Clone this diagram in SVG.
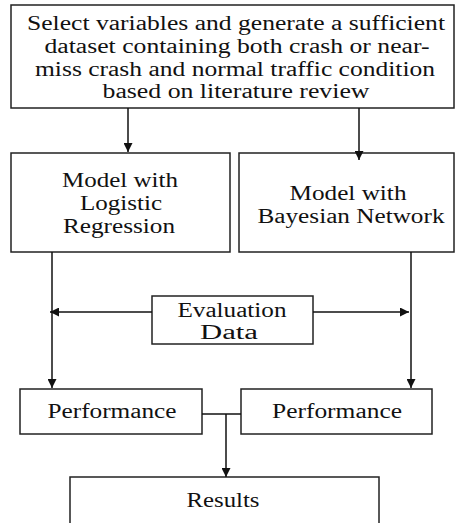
<svg xmlns="http://www.w3.org/2000/svg" width="455" height="523" viewBox="0 0 455 523">
<style>
.box{fill:#fff;stroke:#222;stroke-width:1.5}
.ln{fill:none;stroke:#111;stroke-width:1.5}
text{font-family:"Liberation Serif","Times New Roman",serif;font-size:20px;fill:#111;text-anchor:middle}
</style>
<defs>
<marker id="ah" viewBox="0 0 10 10" refX="10" refY="5" markerWidth="9" markerHeight="9" markerUnits="userSpaceOnUse" orient="auto">
<path d="M0,0 L10,5 L0,10 Z" fill="#111"/>
</marker>
</defs>
<rect width="455" height="523" fill="#fff"/>
<g id="top">
<rect class="box" x="11" y="5" width="443" height="103"/>
<text x="236" y="30" textLength="418" lengthAdjust="spacingAndGlyphs">Select variables and generate a sufficient</text>
<text x="237" y="53" textLength="385" lengthAdjust="spacingAndGlyphs">dataset containing both  crash or near-</text>
<text x="235" y="76" textLength="400" lengthAdjust="spacingAndGlyphs">miss crash and normal traffic condition</text>
<text x="236" y="98" textLength="267" lengthAdjust="spacingAndGlyphs">based on literature review</text>
</g>
<g id="logistic">
<rect class="box" x="11" y="153" width="219" height="99"/>
<text x="120" y="187" textLength="116" lengthAdjust="spacingAndGlyphs">Model with</text>
<text x="121" y="210" textLength="82" lengthAdjust="spacingAndGlyphs">Logistic</text>
<text x="119" y="233" textLength="112" lengthAdjust="spacingAndGlyphs">Regression</text>
</g>
<g id="bayesian">
<rect class="box" x="239" y="153" width="215" height="99"/>
<text x="348" y="200" textLength="117" lengthAdjust="spacingAndGlyphs">Model with</text>
<text x="351" y="223" textLength="187" lengthAdjust="spacingAndGlyphs">Bayesian Network</text>
</g>
<g id="evaluation">
<rect class="box" x="152" y="296" width="161" height="48"/>
<text x="232" y="317" textLength="109" lengthAdjust="spacingAndGlyphs">Evaluation</text>
<text x="229" y="339" textLength="58" lengthAdjust="spacingAndGlyphs">Data</text>
</g>
<g id="perf-left">
<rect class="box" x="20" y="389" width="182" height="45"/>
<text x="112" y="418" textLength="129" lengthAdjust="spacingAndGlyphs">Performance</text>
</g>
<g id="perf-right">
<rect class="box" x="241" y="389" width="191" height="45"/>
<text x="337" y="418" textLength="130" lengthAdjust="spacingAndGlyphs">Performance</text>
</g>
<g id="results">
<rect class="box" x="70" y="477" width="309" height="60"/>
<text x="223" y="507" textLength="73" lengthAdjust="spacingAndGlyphs">Results</text>
</g>
<g id="connectors">
<line class="ln" x1="128" y1="108" x2="128" y2="152" marker-end="url(#ah)"/>
<line class="ln" x1="359" y1="108" x2="359" y2="160" marker-end="url(#ah)"/>
<line class="ln" x1="52" y1="252" x2="52" y2="388" marker-end="url(#ah)"/>
<line class="ln" x1="411" y1="252" x2="411" y2="388" marker-end="url(#ah)"/>
<line class="ln" x1="152" y1="312" x2="50" y2="312" marker-end="url(#ah)"/>
<line class="ln" x1="313" y1="312" x2="409" y2="312" marker-end="url(#ah)"/>
<line class="ln" x1="202" y1="414" x2="241" y2="414"/>
<line class="ln" x1="226" y1="414" x2="226" y2="477" marker-end="url(#ah)"/>
</g>
</svg>
